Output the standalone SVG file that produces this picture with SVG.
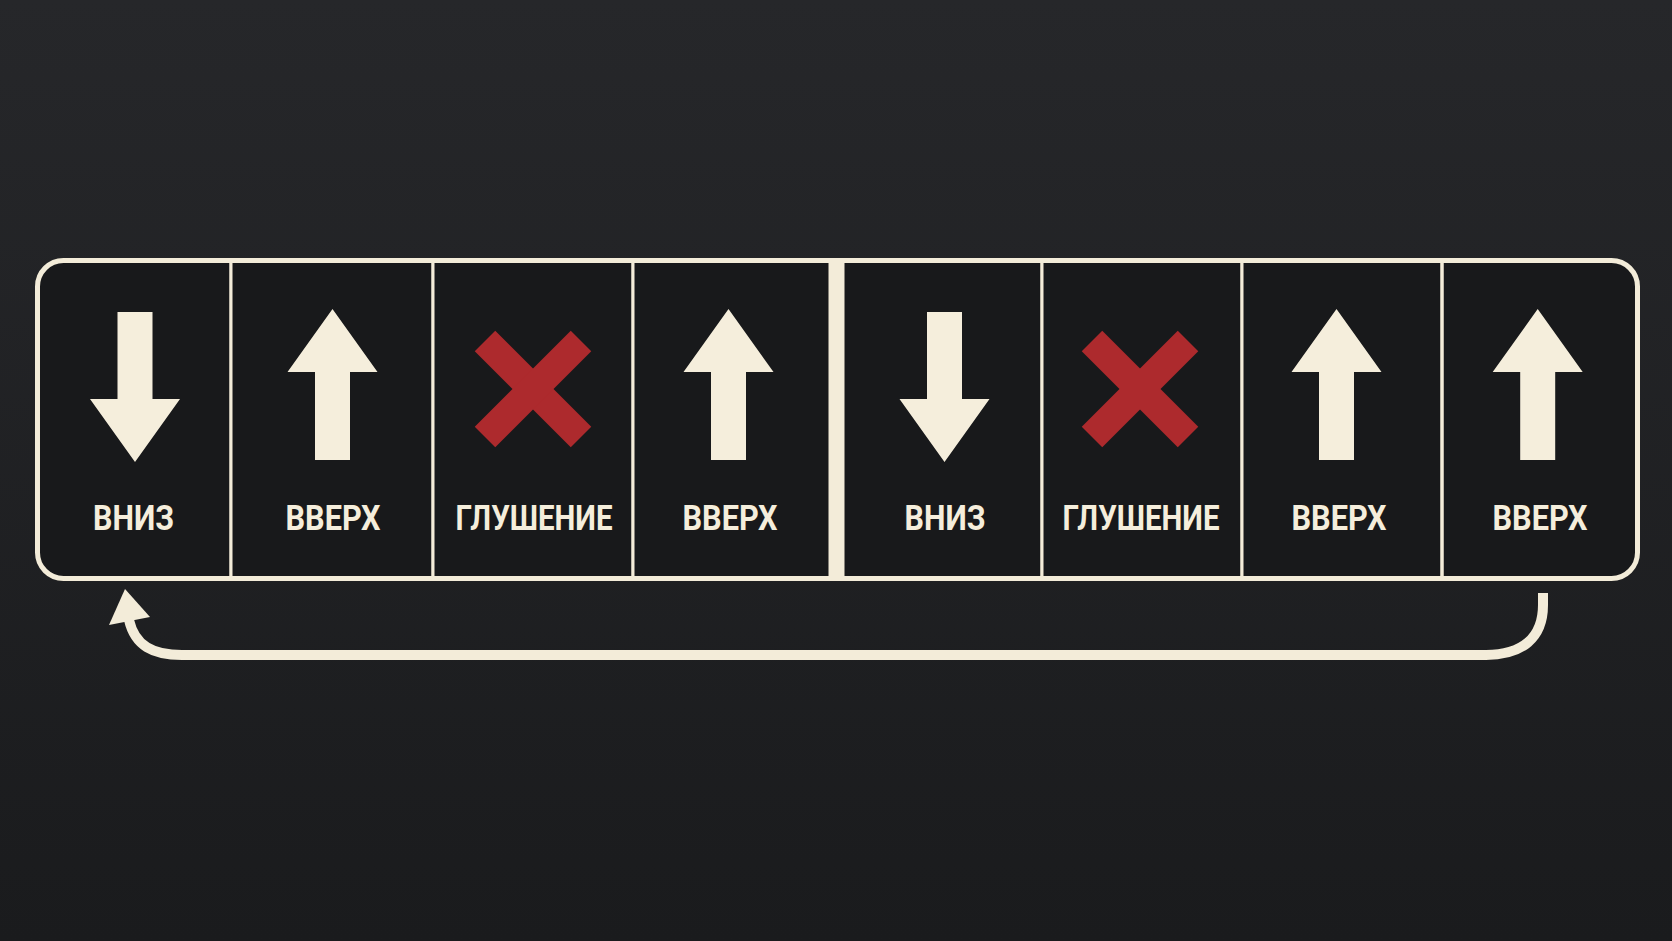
<svg xmlns="http://www.w3.org/2000/svg" width="1672" height="941" viewBox="0 0 1672 941">
<defs>
<linearGradient id="bg" x1="0" y1="0" x2="0" y2="1">
<stop offset="0" stop-color="#26272a"/>
<stop offset="1" stop-color="#1a1b1d"/>
</linearGradient>
<path id="up" d="M0,309 L45,372 L17.5,372 L17.5,460 L-17.5,460 L-17.5,372 L-45,372 Z"/>
<path id="down" d="M-17.5,312 L17.5,312 L17.5,399 L45,399 L0,462 L-45,399 L-17.5,399 Z"/>
<g id="cross" stroke="#ad2a2d" stroke-width="29" stroke-linecap="butt">
<line x1="-48" y1="341" x2="48" y2="437"/>
<line x1="48" y1="341" x2="-48" y2="437"/>
</g>
</defs>
<style>
.cell{fill:#18191b;stroke:#f3ecd9;stroke-width:3}
.icon{fill:#f5eedc}
.lbl{font-family:Roboto,"Liberation Sans",sans-serif;font-weight:700;font-size:35px;fill:#f5eedc;text-anchor:middle}
.frame{fill:none;stroke:#f3ecd9;stroke-width:5}
.conn{fill:none;stroke:#f3ecd9;stroke-width:10}
.head{fill:#f3ecd9}
</style>
<rect width="1672" height="941" fill="url(#bg)"/>
<rect x="37.5" y="260.5" width="1600" height="318" rx="26" fill="#18191b"/>
<g id="cell1">
<path class="cell" d="M231,260.5 L231,578.5" fill="none"/>
<use href="#down" class="icon" x="135"/>
<text class="lbl" x="133.5" y="530" textLength="81" lengthAdjust="spacingAndGlyphs">ВНИЗ</text>
</g>
<g id="cell2">
<rect class="cell" x="231" y="260.5" width="202" height="318"/>
<use href="#up" class="icon" x="332.5"/>
<text class="lbl" x="333" y="530" textLength="95" lengthAdjust="spacingAndGlyphs">ВВЕРХ</text>
</g>
<g id="cell3">
<rect class="cell" x="433" y="260.5" width="200" height="318"/>
<use href="#cross" x="533"/>
<text class="lbl" x="534" y="530" textLength="157" lengthAdjust="spacingAndGlyphs">ГЛУШЕНИЕ</text>
</g>
<g id="cell4">
<rect class="cell" x="633" y="260.5" width="197" height="318"/>
<use href="#up" class="icon" x="728.5"/>
<text class="lbl" x="730" y="530" textLength="95" lengthAdjust="spacingAndGlyphs">ВВЕРХ</text>
</g>
<rect id="midbar" x="830" y="260.5" width="13" height="318" fill="#f3ecd9"/>
<g id="cell5">
<rect class="cell" x="843" y="260.5" width="199" height="318"/>
<use href="#down" class="icon" x="944.5"/>
<text class="lbl" x="945" y="530" textLength="81" lengthAdjust="spacingAndGlyphs">ВНИЗ</text>
</g>
<g id="cell6">
<rect class="cell" x="1042" y="260.5" width="200" height="318"/>
<use href="#cross" x="1140"/>
<text class="lbl" x="1141" y="530" textLength="157" lengthAdjust="spacingAndGlyphs">ГЛУШЕНИЕ</text>
</g>
<g id="cell7">
<rect class="cell" x="1242" y="260.5" width="200" height="318"/>
<use href="#up" class="icon" x="1336.5"/>
<text class="lbl" x="1339" y="530" textLength="95" lengthAdjust="spacingAndGlyphs">ВВЕРХ</text>
</g>
<g id="cell8">
<path class="cell" d="M1442,260.5 L1442,578.5" fill="none"/>
<use href="#up" class="icon" x="1537.7"/>
<text class="lbl" x="1540" y="530" textLength="95" lengthAdjust="spacingAndGlyphs">ВВЕРХ</text>
</g>
<rect class="frame" x="37.5" y="260.5" width="1600" height="318" rx="26"/>
<g id="connectors">
<path class="conn" d="M1543,593 L1543,605 C1543,638 1522,655 1486,655 L182,655 C153,655 135,646 129,620"/>
<polygon class="head" points="125,589 150,617 109,625"/>
</g>
</svg>
